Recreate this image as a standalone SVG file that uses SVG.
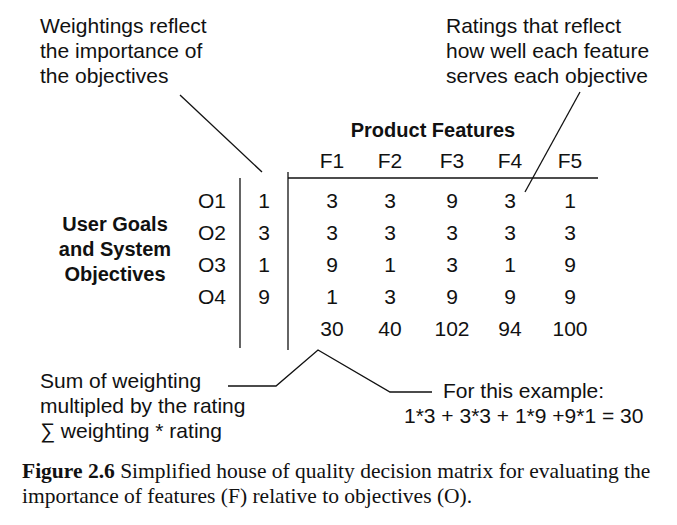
<svg xmlns="http://www.w3.org/2000/svg" width="677" height="525" viewBox="0 0 677 525">
<style>
text{font-family:"Liberation Sans",Arial,sans-serif;font-size:21px;fill:#111}
.c{text-anchor:middle}
.r{text-anchor:end}
.b{font-weight:bold;font-size:20px}
.cap{font-family:"Liberation Serif","Times New Roman",serif;font-size:21.5px}
line,polyline{stroke:#111;stroke-width:1.3;fill:none}
</style>
<rect width="677" height="525" fill="#fff"/>
<g id="connectors">
<line x1="180" y1="95" x2="262" y2="172"/>
<line x1="580" y1="92" x2="525" y2="192"/>
<polyline points="228,386 276,386 318,350 390,392 432,392"/>
<line x1="240" y1="178" x2="240" y2="348"/>
<line x1="288" y1="172" x2="288" y2="350"/>
<line x1="288" y1="178" x2="598" y2="178"/>
</g>
<g id="note-weightings"><text x="40" y="33">Weightings reflect</text><text x="40" y="58">the importance of</text><text x="40" y="83">the objectives</text></g>
<g id="note-ratings"><text x="446" y="33">Ratings that reflect</text><text x="446" y="58">how well each feature</text><text x="446" y="83">serves each objective</text></g>
<g id="header"><text class="c b" x="433" y="137">Product Features</text>
<text class="c" x="332" y="168">F1</text><text class="c" x="390" y="168">F2</text><text class="c" x="452" y="168">F3</text><text class="c" x="510" y="168">F4</text><text class="c" x="570" y="168">F5</text></g>
<g id="rowlabel"><text class="c b" x="115" y="231">User Goals</text><text class="c b" x="115" y="256">and System</text><text class="c b" x="115" y="281">Objectives</text></g>
<g id="matrix">
<text class="r" x="226" y="208">O1</text><text class="c" x="264" y="208">1</text>
<text class="c" x="332" y="208">3</text><text class="c" x="390" y="208">3</text><text class="c" x="452" y="208">9</text><text class="c" x="510" y="208">3</text><text class="c" x="570" y="208">1</text>
<text class="r" x="226" y="240">O2</text><text class="c" x="264" y="240">3</text>
<text class="c" x="332" y="240">3</text><text class="c" x="390" y="240">3</text><text class="c" x="452" y="240">3</text><text class="c" x="510" y="240">3</text><text class="c" x="570" y="240">3</text>
<text class="r" x="226" y="272">O3</text><text class="c" x="264" y="272">1</text>
<text class="c" x="332" y="272">9</text><text class="c" x="390" y="272">1</text><text class="c" x="452" y="272">3</text><text class="c" x="510" y="272">1</text><text class="c" x="570" y="272">9</text>
<text class="r" x="226" y="304">O4</text><text class="c" x="264" y="304">9</text>
<text class="c" x="332" y="304">1</text><text class="c" x="390" y="304">3</text><text class="c" x="452" y="304">9</text><text class="c" x="510" y="304">9</text><text class="c" x="570" y="304">9</text>
<text class="c" x="332" y="336">30</text><text class="c" x="390" y="336">40</text><text class="c" x="452" y="336">102</text><text class="c" x="510" y="336">94</text><text class="c" x="570" y="336">100</text>
</g>
<g id="note-sum"><text x="40" y="388">Sum of weighting</text><text x="40" y="413">multipled by the rating</text><text x="40" y="438">∑ weighting * rating</text></g>
<g id="note-example"><text x="443" y="398">For this example:</text><text x="404" y="423">1*3 + 3*3 + 1*9 +9*1 = 30</text></g>
<g id="caption"><text class="cap" x="22" y="478"><tspan font-weight="bold">Figure 2.6</tspan> Simplified house of quality decision matrix for evaluating the</text><text class="cap" x="22" y="503">importance of features (F) relative to objectives (O).</text></g>
</svg>
